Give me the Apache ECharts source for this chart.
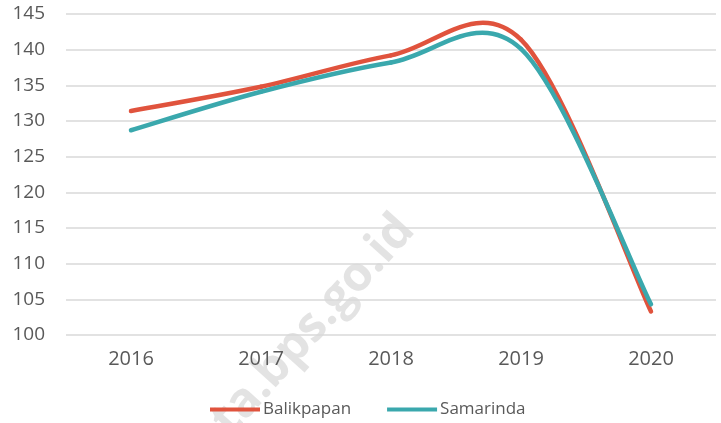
<!DOCTYPE html>
<html lang="en">
<head>
<meta charset="UTF-8">
<title>Balikpapan vs Samarinda</title>
<script src="https://cdn.jsdelivr.net/npm/echarts@6/dist/echarts.min.js"></script>
<style>
  html, body { margin: 0; padding: 0; background: #fff; }
  #canvas { width: 721px; height: 423px; }
</style>
</head>
<body>
<div id="canvas"></div>
<script>
const years = ['2016', '2017', '2018', '2019', '2020']
const balikpapan = [131.4, 134.8, 139.2, 141.4, 103.3]
const samarinda = [128.7, 134.1, 138.2, 140.1, 104.3]
const yTicks = [100, 105, 110, 115, 120, 125, 130, 135, 140, 145]

const font = '"Open Sans", "DejaVu Sans", sans-serif'

// smoothed line like the spreadsheet one: cubic segments, control points from neighbours
function smoothSeries(name, values, color, z) {
  return {
    name: name,
    type: 'custom',
    z: z,
    itemStyle: { color: color },
    data: values.map((v, i) => [i, v]),
    encode: { x: 0, y: 1 },
    renderItem: function (params, api) {
      const i = params.dataIndex
      if (i >= values.length - 1) return null
      const p = k => {
        const j = Math.max(0, Math.min(values.length - 1, k))
        return api.coord([j, values[j]])
      }
      const p0 = p(i - 1), p1 = p(i), p2 = p(i + 1), p3 = p(i + 2)
      return {
        type: 'bezierCurve',
        shape: {
          x1: p1[0], y1: p1[1],
          x2: p2[0], y2: p2[1],
          cpx1: p1[0] + (p2[0] - p0[0]) / 6, cpy1: p1[1] + (p2[1] - p0[1]) / 6,
          cpx2: p2[0] - (p3[0] - p1[0]) / 6, cpy2: p2[1] - (p3[1] - p1[1]) / 6
        },
        style: { stroke: color, lineWidth: 4.5, fill: 'none', lineCap: 'round' }
      }
    }
  }
}

const option = {
  animation: false,
  grid: { left: 66, right: 5, top: 14, bottom: 88 },
  legend: {
    top: 401,
    left: 210,
    padding: 0,
    itemGap: 36,
    itemWidth: 50,
    itemHeight: 4,
    icon: 'rect',
    textStyle: { color: '#595959', fontSize: 17, fontFamily: font, padding: [0, 0, 0, -2] },
    data: ['Balikpapan', 'Samarinda']
  },
  xAxis: {
    type: 'category',
    data: years,
    boundaryGap: true,
    axisLine: { show: false },
    axisTick: { show: false },
    axisLabel: { color: '#595959', fontSize: 20, fontFamily: font, margin: 14 }
  },
  yAxis: {
    type: 'value',
    min: yTicks[0],
    max: yTicks[yTicks.length - 1],
    interval: 5,
    axisLine: { show: false },
    axisTick: { show: false },
    splitLine: { lineStyle: { color: '#d9d9d9', width: 1.5 } },
    axisLabel: { color: '#595959', fontSize: 19, fontFamily: font, margin: 21 }
  },
  graphic: [{
    type: 'text',
    left: 163,
    top: 206,
    rotation: Math.PI / 180 * 48,
    z: -1,
    style: {
      text: 'kota.bps.go.id',
      fill: 'rgba(200,200,200,0.5)',
      font: 'bold 48px ' + font
    }
  }],
  series: [
    smoothSeries('Balikpapan', balikpapan, '#e0533d', 3),
    smoothSeries('Samarinda', samarinda, '#3aa8ad', 4)
  ]
}

const myChart = echarts.init(document.getElementById('canvas'))
myChart.setOption(option)
</script>
</body>
</html>
